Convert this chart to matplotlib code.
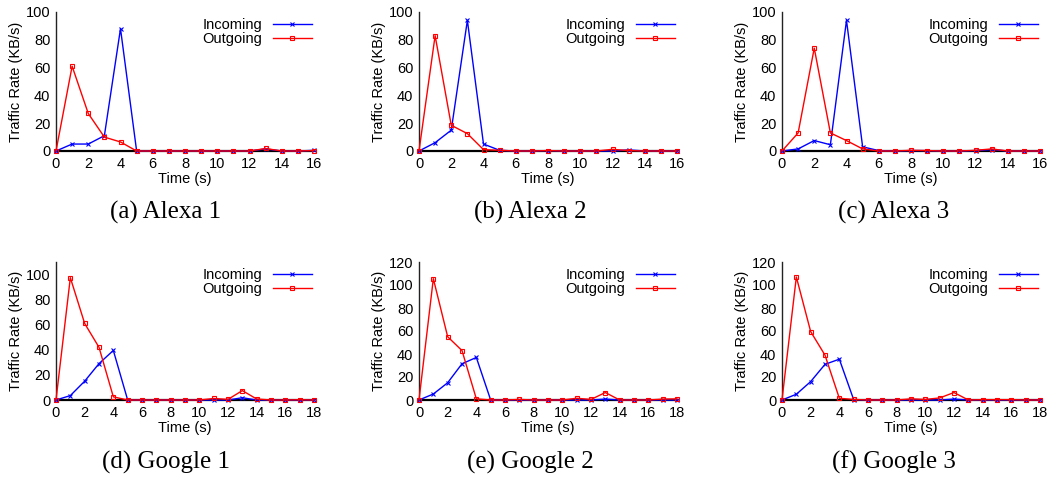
import matplotlib
matplotlib.use("Agg")
import matplotlib.pyplot as plt
import numpy as np

plt.rcParams['font.family'] = ['Liberation Sans', 'DejaVu Sans']

# time axes
t16 = list(range(0, 17))
t18 = list(range(0, 19))

# Alexa runs (KB/s)
alexa1_in = [0, 5, 5, 11, 88, 0, 0, 0, 0, 0, 0, 0, 0, 1.5, 0, 0, 0.5]
alexa1_out = [0, 61, 27, 10, 6.5, 0, 0, 0, 0, 0, 0, 0, 0, 1.8, 0, 0, 0.3]
alexa2_in = [0, 6, 15, 94, 5, 0.5, 0, 0, 0.3, 0, 0, 0, 0, 0.8, 0, 0, 0]
alexa2_out = [0, 83, 18.5, 12.5, 1, 0.5, 0, 0, 0.3, 0, 0, 0, 1.2, 0.3, 0, 0, 0]
alexa3_in = [0, 1.5, 7.5, 4.5, 94, 3, 0.3, 0, 0.3, 0.3, 0, 0, 0.3, 1, 0, 0, 0]
alexa3_out = [0, 13, 74, 13, 7.5, 1.5, 0, 0, 0.5, 0.3, 0, 0, 0.5, 1.5, 0, 0, 0]

# Google runs (KB/s)
google1_in = [0, 3.5, 15, 29, 39.5, 0, 0, 0, 0, 0, 0, 0, 0, 1.8, 0, 0, 0, 0, 0]
google1_out = [0, 97.5, 61, 42, 2.5, 0, 0, 0, 0, 0, 0, 1.2, 0.5, 7.5, 0.8, 0, 0, 0.2, 0]
google2_in = [0, 5.2, 15, 31.5, 37, 0, 0, 0, 0, 0, 0, 0, 0, 0.8, 0, 0, 0, 0, 0]
google2_out = [0, 105.5, 55, 43, 1, 0, 0, 0.5, 0, 0, 0, 1.5, 0.5, 6.5, 0, 0, 0, 0.8, 1]
google3_in = [0, 5, 16, 31, 35.5, 0.3, 0, 0, 0, 0, 0, 0, 0.8, 0, 0, 0, 0, 0, 0]
google3_out = [0, 107, 59.5, 39, 1.5, 0.5, 0, 0, 0, 1, 0.5, 1.8, 6.5, 0, 0.3, 0.3, 0.3, 0, 0]

panels = [
    ("(a) Alexa 1", t16, alexa1_in, alexa1_out, 100, 16),
    ("(b) Alexa 2", t16, alexa2_in, alexa2_out, 100, 16),
    ("(c) Alexa 3", t16, alexa3_in, alexa3_out, 100, 16),
    ("(d) Google 1", t18, google1_in, google1_out, 110, 18),
    ("(e) Google 2", t18, google2_in, google2_out, 120, 18),
    ("(f) Google 3", t18, google3_in, google3_out, 120, 18),
]

W, H = 1052, 480
fig = plt.figure(figsize=(W / 100, H / 100), dpi=100)

# pixel layout
lefts = [56, 419, 782]
width = 258
rows = [(12, 151), (262, 400)]
caption_y = [212, 462]
caption_x = [166, 530, 894]

for i, (cap, t, inc, out, ymax, xmax) in enumerate(panels):
    r, c = divmod(i, 3)
    top, bot = rows[r]
    h = bot - top
    ax = fig.add_axes([lefts[c] / W, 1 - bot / H, width / W, h / H])
    ax.plot(t, inc, color='#0000ff', lw=1.0, marker='x', ms=3, mew=0.8,
            label='Incoming', clip_on=False, zorder=3)
    ax.plot(t, out, color='#ff0000', lw=1.0, marker='s', ms=3.2, mew=0.8,
            mfc='none', label='Outgoing', clip_on=False, zorder=3)
    ax.set_xlim(0, xmax)
    ax.set_ylim(0, ymax)
    ax.set_xticks(np.arange(0, xmax + 1, 2))
    ax.set_yticks(np.arange(0, ymax + 1, 20))
    for s in ('top', 'right'):
        ax.spines[s].set_visible(False)
    ax.spines['left'].set_linewidth(1.0)
    ax.spines['left'].set_color('#222222')
    ax.spines['bottom'].set_linewidth(1.6)
    ax.spines['bottom'].set_color('black')
    ax.tick_params(length=0, labelsize=10.5, pad=4, colors='black')
    ax.set_xlabel('Time (s)', fontsize=10.5, labelpad=1)
    ax.set_ylabel('Traffic Rate (KB/s)', fontsize=10.5)
    ax.yaxis.set_label_coords(-33 / width, 0.5)
    ax.legend(loc='upper right', bbox_to_anchor=(1 - 2 / width, 1 - 6 / h),
              frameon=False, markerfirst=False, fontsize=10.5, handlelength=2.7,
              handletextpad=0.7, labelspacing=0.0, borderpad=0, borderaxespad=0)
    fig.text(caption_x[c] / W, 1 - caption_y[r] / H, cap, ha='center', va='center',
             fontsize=18, family='Liberation Serif')

fig.savefig('out.png', dpi=100)
